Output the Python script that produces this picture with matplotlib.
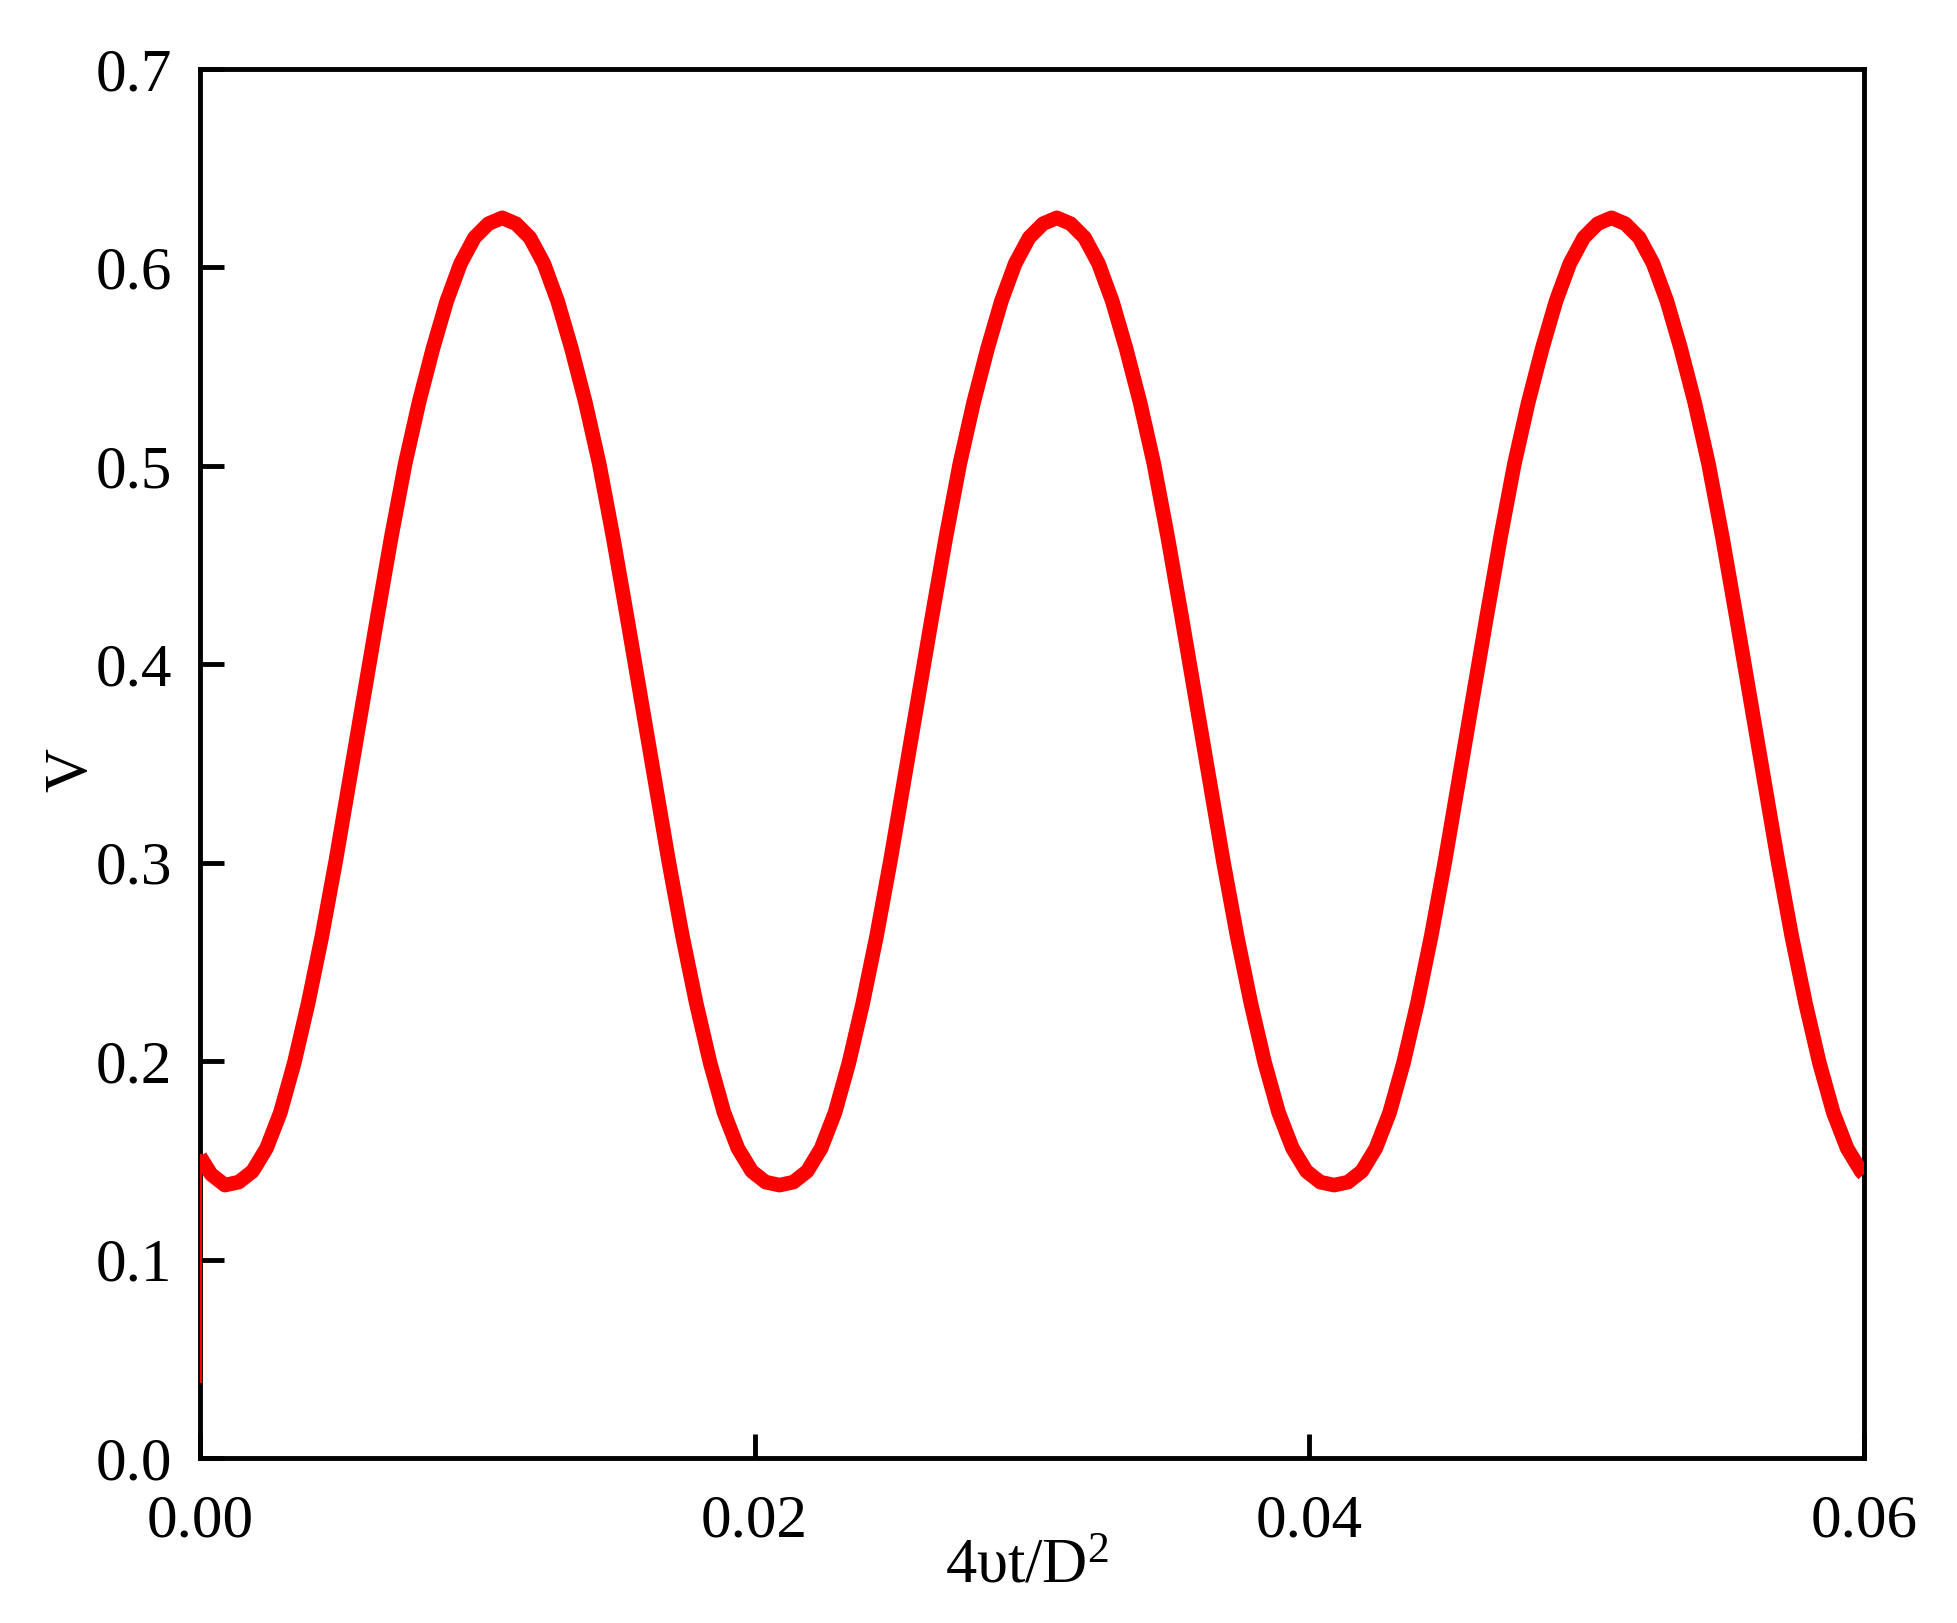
import matplotlib
matplotlib.use('Agg')
import matplotlib.pyplot as plt
from matplotlib.ticker import FormatStrFormatter

# values (x = 4vt/D^2, y = V)
x_vals = [
    0.0, 0.0, 0.0004, 0.0009, 0.0014, 0.0019, 0.0024, 0.0029, 0.0034, 0.0039,
    0.0044, 0.0049, 0.0054, 0.0059, 0.0064, 0.0069, 0.0074, 0.0079, 0.0084, 0.0089,
    0.0094, 0.0099, 0.0104, 0.0109, 0.0114, 0.0119, 0.0124, 0.0129, 0.0134, 0.0139,
    0.0144, 0.0149, 0.0154, 0.0159, 0.0164, 0.0169, 0.0174, 0.0179, 0.0184, 0.0189,
    0.0194, 0.0199, 0.0204, 0.0209, 0.0214, 0.0219, 0.0224, 0.0229, 0.0234, 0.0239,
    0.0244, 0.0249, 0.0254, 0.0259, 0.0264, 0.0269, 0.0274, 0.0279, 0.0284, 0.0289,
    0.0294, 0.0299, 0.0304, 0.0309, 0.0314, 0.0319, 0.0324, 0.0329, 0.0334, 0.0339,
    0.0344, 0.0349, 0.0354, 0.0359, 0.0364, 0.0369, 0.0374, 0.0379, 0.0384, 0.0389,
    0.0394, 0.0399, 0.0404, 0.0409, 0.0414, 0.0419, 0.0424, 0.0429, 0.0434, 0.0439,
    0.0444, 0.0449, 0.0454, 0.0459, 0.0464, 0.0469, 0.0474, 0.0479, 0.0484, 0.0489,
    0.0494, 0.0499, 0.0504, 0.0509, 0.0514, 0.0519, 0.0524, 0.0529, 0.0534, 0.0539,
    0.0544, 0.0549, 0.0554, 0.0559, 0.0564, 0.0569, 0.0574, 0.0579, 0.0584, 0.0589,
    0.0594, 0.0599, 0.0600,
]
v_vals = [
    0.039, 0.152, 0.143, 0.1375, 0.139, 0.1445, 0.156, 0.174, 0.199, 0.229,
    0.263, 0.301, 0.342, 0.383, 0.424, 0.464, 0.501, 0.532, 0.559, 0.583,
    0.602, 0.615, 0.622, 0.625, 0.622, 0.615, 0.602, 0.583, 0.559, 0.532,
    0.501, 0.464, 0.424, 0.383, 0.342, 0.301, 0.263, 0.229, 0.199, 0.174,
    0.156, 0.1445, 0.139, 0.1375, 0.139, 0.1445, 0.156, 0.174, 0.199, 0.229,
    0.263, 0.301, 0.342, 0.383, 0.424, 0.464, 0.501, 0.532, 0.559, 0.583,
    0.602, 0.615, 0.622, 0.625, 0.622, 0.615, 0.602, 0.583, 0.559, 0.532,
    0.501, 0.464, 0.424, 0.383, 0.342, 0.301, 0.263, 0.229, 0.199, 0.174,
    0.156, 0.1445, 0.139, 0.1375, 0.139, 0.1445, 0.156, 0.174, 0.199, 0.229,
    0.263, 0.301, 0.342, 0.383, 0.424, 0.464, 0.501, 0.532, 0.559, 0.583,
    0.602, 0.615, 0.622, 0.625, 0.622, 0.615, 0.602, 0.583, 0.559, 0.532,
    0.501, 0.464, 0.424, 0.383, 0.342, 0.301, 0.263, 0.229, 0.199, 0.174,
    0.156, 0.1445, 0.143,
]

x_ticks = [0.00, 0.02, 0.04, 0.06]
y_ticks = [0.0, 0.1, 0.2, 0.3, 0.4, 0.5, 0.6, 0.7]

plt.rcParams['font.family'] = 'Liberation Serif'
plt.rcParams['mathtext.fontset'] = 'custom'
plt.rcParams['mathtext.rm'] = 'Liberation Serif'
plt.rcParams['mathtext.it'] = 'Liberation Serif:italic'
plt.rcParams['mathtext.default'] = 'regular'

fig = plt.figure(figsize=(19.58, 16.23), dpi=100)
ax = fig.add_axes([0.1021, 0.1017, 0.8498, 0.8558])

# thin segment hugging the left spine, then the oscillating curve
ax.plot(x_vals[:2], v_vals[:2], color='#FF0000', linewidth=3, zorder=3)
ax.plot(x_vals[1:], v_vals[1:], color='#FF0000', linewidth=10.5,
        solid_joinstyle='round', solid_capstyle='butt', zorder=3)

ax.set_xlim(0, 0.06)
ax.set_ylim(0, 0.7)
ax.set_xticks(x_ticks)
ax.set_yticks(y_ticks)
ax.xaxis.set_major_formatter(FormatStrFormatter('%.2f'))
ax.yaxis.set_major_formatter(FormatStrFormatter('%.1f'))

ax.tick_params(axis='both', direction='in', length=17, width=3.5,
               labelsize=44, colors='black')
ax.tick_params(axis='x', pad=26)
ax.tick_params(axis='y', pad=20)
for spine in ax.spines.values():
    spine.set_linewidth(3.5)
    spine.set_color('black')

ax.set_xlabel('4υt/D$^{2}$', fontsize=45, va='baseline')
ax.xaxis.set_label_coords(0.497, -0.090)
ax.set_ylabel('V', fontsize=44)
ax.yaxis.set_label_coords(-0.0607, 0.495)

fig.savefig('out.png', dpi=100, facecolor='white')
plt.close(fig)
